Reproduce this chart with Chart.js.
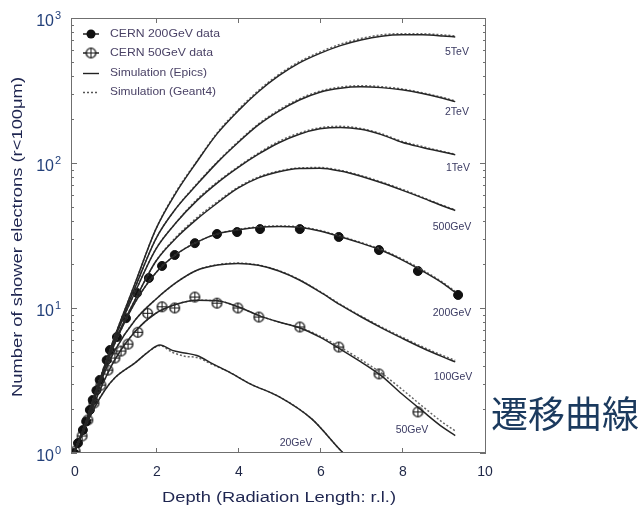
<!DOCTYPE html>
<html lang="ja">
<head>
<meta charset="UTF-8">
<title>遷移曲線</title>
<style>
    body { margin: 0; background: #fff; }
    .wrap { position: relative; width: 643px; height: 511px; }
    #shower { position: absolute; left: 0; top: 0; }
    .caption {
        position: absolute; left: 491px; top: 394px;
        font-family: 'Noto Sans CJK JP', sans-serif; font-size: 37px; line-height: 1;
        color: #1b3a5e; white-space: nowrap;
    }
</style>
</head>
<body>
<div class="wrap">
    <canvas id="shower" width="643" height="511"></canvas>
    <div class="caption">遷移曲線</div>
</div>
<script src="https://cdn.jsdelivr.net/npm/chart.js"></script>
<script>
// depth grid (radiation lengths) shared by the simulated curves
const simDepth = [0, 0.25, 0.5, 0.75, 1, 1.5, 2, 2.5, 3, 3.5, 4, 4.5, 5, 5.5, 6, 6.5, 7, 7.5, 8, 8.5, 9, 9.3];

// Epics (solid)
const epics5TeV   = [1, 1.5, 2.5, 4.0, 6.4, 15, 35, 63, 102, 160, 228, 310, 400, 490, 570, 645, 705, 748, 765, 765, 752, 740];
const epics2TeV   = [1, 1.5, 2.45, 3.95, 6.3, 14, 30, 49, 71, 101, 138, 183, 228, 272, 308, 328, 335, 331, 320, 302, 280, 265];
const epics1TeV   = [1, 1.5, 2.45, 3.9, 6.2, 13, 25.5, 39, 55, 73, 93, 115, 138, 158, 172, 176, 171, 157, 139, 128, 119, 114];
const epics500GeV = [1, 1.5, 2.4, 3.85, 5.9, 11.5, 21, 30.5, 41, 53, 67, 79, 87, 91.5, 92, 88, 81, 73, 65, 57.5, 50.5, 47];
const epics200GeV = [1, 1.5, 2.4, 3.8, 5.7, 11, 17.5, 23.5, 28.5, 32.5, 34.5, 36, 36.5, 36, 34, 31, 28, 25, 21.5, 18, 14.8, 12.8];
const epics100GeV = [1, 1.5, 2.35, 3.6, 5.1, 8.3, 11.5, 15, 18.2, 19.8, 20.3, 19.7, 18, 15.6, 12.9, 10.5, 8.7, 7.3, 6.2, 5.3, 4.6, 4.25];
const epics50GeV  = [1, 1.45, 2.2, 3.2, 4.4, 6.9, 9.2, 10.6, 11.3, 11.2, 10.2, 8.9, 8.0, 7.3, 6.3, 5.2, 4.25, 3.4, 2.55, 1.95, 1.5, 1.32];

// Geant4 (dotted)
const g4_5TeV   = [1, 1.5, 2.5, 4.0, 6.4, 15, 35, 64, 103, 162, 232, 316, 408, 500, 582, 660, 722, 765, 780, 778, 765, 752];
const g4_2TeV   = [1, 1.5, 2.45, 3.95, 6.3, 14, 30, 49, 72, 102, 140, 186, 232, 277, 313, 334, 341, 336, 324, 305, 283, 268];
const g4_1TeV   = [1, 1.5, 2.45, 3.9, 6.2, 13, 25.5, 39, 56, 74, 94, 117, 141, 161, 175, 179, 173, 159, 141, 130, 120, 115];
const g4_500GeV = [1, 1.5, 2.4, 3.85, 5.9, 11.5, 21, 31, 42, 54, 68, 80, 88, 92.5, 93, 89, 82, 74, 66, 58, 51, 47.5];
const g4_200GeV = [1, 1.5, 2.4, 3.8, 5.7, 11, 17.5, 23.5, 28.5, 32.5, 34.8, 36.3, 36.8, 36.3, 34.3, 31.3, 28.3, 25.3, 21.8, 18.3, 15.0, 13.0];
const g4_100GeV = [1, 1.5, 2.35, 3.6, 5.1, 8.3, 11.5, 15, 18.2, 19.9, 20.4, 19.8, 18.1, 15.7, 13.0, 10.6, 8.8, 7.4, 6.3, 5.4, 4.7, 4.35];
const g4_50GeV  = [1, 1.45, 2.2, 3.2, 4.4, 6.9, 9.2, 10.6, 11.3, 11.2, 10.2, 8.9, 8.0, 7.35, 6.4, 5.35, 4.4, 3.55, 2.75, 2.1, 1.62, 1.42];

// 20GeV has its own grid around the sharp maximum
const depth20GeV = [0, 0.25, 0.5, 0.75, 1, 1.5, 1.8, 2.1, 2.4, 2.7, 3, 3.4, 3.8, 4.3, 5, 5.8, 6.6, 7];
const epics20GeV = [1, 1.45, 2.05, 2.7, 3.3, 4.2, 4.95, 5.55, 5.1, 4.9, 4.7, 4.1, 3.6, 3.0, 2.45, 1.72, 0.98, 0.8];
const g4_20GeV   = [1, 1.45, 2.05, 2.7, 3.3, 4.2, 4.95, 5.5, 4.95, 4.65, 4.55, 4.05, 3.6, 3.0, 2.45, 1.72, 0.98, 0.8];

// CERN beam test data
const cern200Depth = [0, 0.1, 0.22, 0.3, 0.39, 0.46, 0.55, 0.63, 0.8, 0.88, 1.05, 1.27, 1.54, 1.83, 2.15, 2.46, 2.95, 3.49, 3.98, 4.54, 5.51, 6.46, 7.44, 8.39, 9.37];
const cern200N     = [1.0, 1.17, 1.44, 1.65, 1.98, 2.32, 2.7, 3.19, 4.37, 5.13, 6.31, 8.5, 12.7, 16.1, 19.5, 23.2, 28, 32.4, 33.4, 35, 35, 30.9, 25.1, 18.0, 12.3];
const cern50Depth  = [0.03, 0.2, 0.34, 0.49, 0.66, 0.83, 1.0, 1.15, 1.32, 1.56, 1.8, 2.15, 2.46, 2.95, 3.49, 4.0, 4.51, 5.51, 6.46, 7.44, 8.39];
const cern50N      = [1.03, 1.31, 1.69, 2.21, 2.94, 3.73, 4.52, 5.05, 5.64, 6.8, 9.2, 10.2, 10.0, 11.9, 10.8, 10.0, 8.66, 7.4, 5.38, 3.51, 1.92];

const xTicks = [0, 2, 4, 6, 8, 10];
const yDecades = [0, 1, 2, 3];
const energyLabels = ['5TeV', '2TeV', '1TeV', '500GeV', '200GeV', '100GeV', '50GeV', '20GeV'];
const legendLabels = ['CERN 200GeV data', 'CERN 50GeV data', 'Simulation (Epics)', 'Simulation (Geant4)'];

const FONT = "'Liberation Sans', Arial, sans-serif";
const INK = '#262626';

function pts(xs, ys) { return xs.map((x, i) => ({ x: x, y: ys[i] })); }

// open circle with a cross, used for the 50GeV points
function crossCircle(r) {
    const c = document.createElement('canvas');
    const s = Math.ceil(r * 2 + 3);
    c.width = c.height = s;
    const g = c.getContext('2d');
    const m = s / 2;
    g.strokeStyle = '#151515';
    g.lineWidth = 1.3;
    g.fillStyle = '#fff';
    g.beginPath(); g.arc(m, m, r, 0, Math.PI * 2); g.fill(); g.stroke();
    g.lineWidth = 1;
    g.beginPath();
    g.moveTo(m - r, m); g.lineTo(m + r, m);
    g.moveTo(m, m - r); g.lineTo(m, m + r);
    g.stroke();
    return c;
}
const crossMark = crossCircle(4.8);

function solid(data, xs) {
    return { data: pts(xs || simDepth, data), borderColor: INK, borderWidth: 1.5,
             pointRadius: 0, cubicInterpolationMode: 'monotone', fill: false };
}
function dotted(data, xs) {
    return { data: pts(xs || simDepth, data), borderColor: '#666', borderWidth: 1.5, borderDash: [2, 2],
             pointRadius: 0, cubicInterpolationMode: 'monotone', fill: false };
}

const datasets = [
    solid(epics5TeV), solid(epics2TeV), solid(epics1TeV), solid(epics500GeV),
    solid(epics200GeV), solid(epics100GeV), solid(epics50GeV), solid(epics20GeV, depth20GeV),
    dotted(g4_5TeV), dotted(g4_2TeV), dotted(g4_1TeV), dotted(g4_500GeV),
    dotted(g4_200GeV), dotted(g4_100GeV), dotted(g4_50GeV), dotted(g4_20GeV, depth20GeV),
    { data: pts(cern200Depth, cern200N), showLine: false, pointStyle: 'circle', pointRadius: 4.5,
      backgroundColor: '#111', borderColor: '#111', borderWidth: 1 },
    { data: pts(cern50Depth, cern50N), showLine: false, pointStyle: crossMark, pointRadius: 5 }
];

// label anchor points for each curve (pixels)
const labelAt = [[457, 52], [457, 112], [458, 168], [452, 227], [452, 313], [453, 377], [412, 430], [296, 443]];

// draw text stretched along its own direction to a given length
function fitText(ctx, text, x, y, width) {
    const w = ctx.measureText(text).width;
    ctx.save();
    ctx.translate(x, y);
    ctx.scale(width / w, 1);
    ctx.fillText(text, 0, 0);
    ctx.restore();
}

const decorPlugin = {
    id: 'decor',
    afterDraw(chart) {
        const ctx = chart.ctx;
        const a = chart.chartArea;
        const xs = chart.scales.x, ys = chart.scales.y;
        ctx.save();

        // frame
        ctx.strokeStyle = '#6f6f6f';
        ctx.lineWidth = 1;
        ctx.strokeRect(a.left + 0.5, a.top + 0.5, a.right - a.left - 1, a.bottom - a.top - 1);

        // y ticks, both sides, pointing in
        ctx.beginPath();
        yDecades.forEach(d => {
            const y = Math.round(ys.getPixelForValue(Math.pow(10, d))) + 0.5;
            ctx.moveTo(a.left, y); ctx.lineTo(a.left + 6, y);
            ctx.moveTo(a.right, y); ctx.lineTo(a.right - 6, y);
            if (d < 3) {
                for (let m = 2; m <= 9; m++) {
                    const ym = Math.round(ys.getPixelForValue(m * Math.pow(10, d))) + 0.5;
                    ctx.moveTo(a.left, ym); ctx.lineTo(a.left + 3, ym);
                    ctx.moveTo(a.right, ym); ctx.lineTo(a.right - 3, ym);
                }
            }
        });
        xTicks.slice(1, -1).forEach(v => {
            const x = Math.round(xs.getPixelForValue(v)) + 0.5;
            ctx.moveTo(x, a.top); ctx.lineTo(x, a.top + 5);
            ctx.moveTo(x, a.bottom); ctx.lineTo(x, a.bottom - 5);
        });
        ctx.stroke();

        // x tick labels
        ctx.fillStyle = '#1f2747';
        ctx.font = '14px ' + FONT;
        ctx.textAlign = 'center';
        ctx.textBaseline = 'middle';
        xTicks.forEach(v => ctx.fillText(String(v), xs.getPixelForValue(v) + 1, a.bottom + 19));

        // y tick labels 10^n
        ctx.fillStyle = '#23407a';
        yDecades.forEach(d => {
            const y = ys.getPixelForValue(Math.pow(10, d));
            ctx.textBaseline = 'alphabetic';
            ctx.textAlign = 'right';
            ctx.font = '16px ' + FONT;
            ctx.fillText('10', 54, y + 8);
            ctx.textAlign = 'left';
            ctx.font = '11px ' + FONT;
            ctx.fillText(String(d), 55, y + 1);
        });

        // axis titles
        ctx.fillStyle = '#1e2550';
        ctx.font = '14px ' + FONT;
        ctx.textAlign = 'left';
        ctx.textBaseline = 'middle';
        fitText(ctx, 'Depth (Radiation Length: r.l.)', 162, 498, 234);
        ctx.save();
        ctx.translate(18, 397);
        ctx.rotate(-Math.PI / 2);
        fitText(ctx, 'Number of shower electrons (r<100\u03bcm)', 0, 0, 320);
        ctx.restore();

        // energy labels
        ctx.fillStyle = '#3a3a62';
        ctx.font = '10.5px ' + FONT;
        ctx.textAlign = 'center';
        energyLabels.forEach((t, i) => ctx.fillText(t, labelAt[i][0], labelAt[i][1]));

        // legend
        const lx = 91, rows = [34, 53, 73, 92];
        ctx.strokeStyle = '#222';
        ctx.lineWidth = 1.4;
        ctx.beginPath();
        ctx.moveTo(lx - 8, rows[0]); ctx.lineTo(lx + 8, rows[0]);
        ctx.moveTo(lx - 8, rows[1]); ctx.lineTo(lx + 8, rows[1]);
        ctx.stroke();
        ctx.fillStyle = '#111';
        ctx.beginPath(); ctx.arc(lx, rows[0], 4.5, 0, Math.PI * 2); ctx.fill();
        ctx.drawImage(crossMark, lx - crossMark.width / 2, rows[1] - crossMark.height / 2);
        ctx.beginPath();
        ctx.moveTo(lx - 8, rows[2] + 0.5); ctx.lineTo(lx + 8, rows[2] + 0.5);
        ctx.stroke();
        ctx.setLineDash([2, 2]);
        ctx.strokeStyle = '#555';
        ctx.beginPath();
        ctx.moveTo(lx - 8, rows[3] + 0.5); ctx.lineTo(lx + 8, rows[3] + 0.5);
        ctx.stroke();
        ctx.setLineDash([]);
        ctx.fillStyle = '#4a4266';
        ctx.font = '11px ' + FONT;
        ctx.textAlign = 'left';
        const legendWidth = [110, 103, 97, 106];
        legendLabels.forEach((t, i) => fitText(ctx, t, 110, rows[i], legendWidth[i]));

        ctx.restore();
    }
};

const ctx = document.getElementById('shower').getContext('2d');
const chart = new Chart(ctx, {
    type: 'line',
    data: { datasets: datasets },
    options: {
        responsive: false,
        animation: false,
        layout: { padding: { left: 71, top: 18, right: 157, bottom: 58 } },
        scales: {
            x: { type: 'linear', min: -0.07, max: 10.05, display: false },
            y: { type: 'logarithmic', min: 1, max: 1000, display: false }
        },
        plugins: {
            legend: { display: false },
            tooltip: { enabled: false }
        }
    },
    plugins: [decorPlugin]
});
</script>
</body>
</html>
